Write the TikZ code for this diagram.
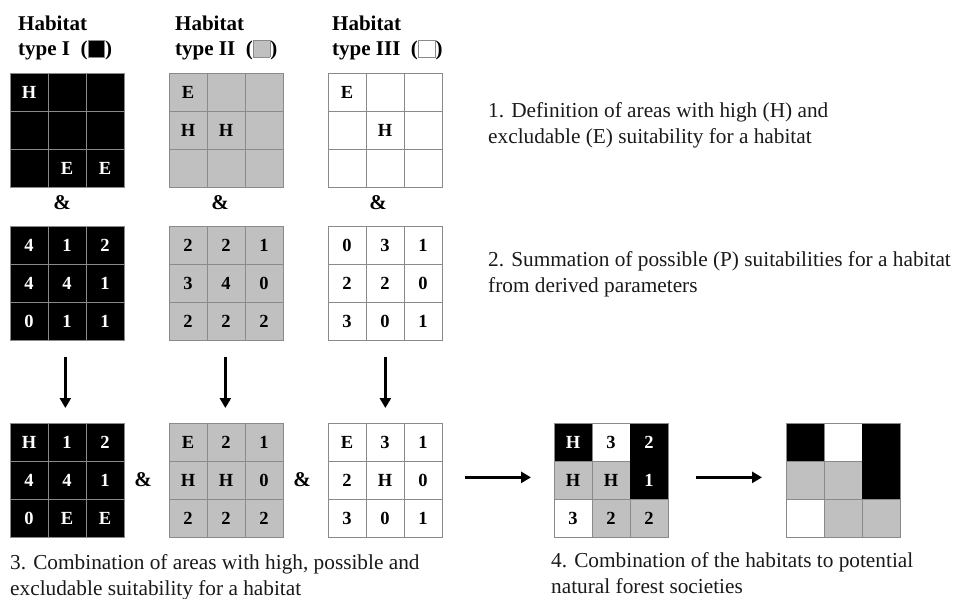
\documentclass[tikz,border=0pt]{standalone}
\usepackage{fontspec}
\setmainfont{Liberation Serif}
\usetikzlibrary{calc,arrows.meta}

\definecolor{hgray}{HTML}{C0C0C0}
\definecolor{gridline}{HTML}{8A8A8A}
\definecolor{ink}{HTML}{1A1A1A}

\tikzset{
  cell/.style={rectangle, minimum size=38pt, inner sep=0pt, draw=gridline,
    line width=0.7pt, font=\fontsize{18.5}{18.5}\selectfont\bfseries},
  blk/.style={fill=black, text=white},
  gry/.style={fill=hgray, text=black},
  wht/.style={fill=white, text=black},
  blkm/.style={fill=black, text=white, draw=black},
  gridframe/.style={rectangle, minimum size=114pt, inner sep=0pt, draw=gridline,
    line width=0.7pt, anchor=north west},
  header/.style={anchor=base west, align=left, inner sep=0pt,
    font=\fontsize{21}{25}\selectfont\bfseries},
  caption/.style={anchor=base west, align=left, inner sep=0pt,
    font=\fontsize{21.3}{26}\selectfont, text=ink},
  amp/.style={font=\fontsize{21}{21}\selectfont\bfseries, inner sep=0pt},
  flow/.style={-{Triangle[length=10pt,width=11pt]}, line width=3.4pt},
}

% 3x3 grid: name, top-left corner, nine entries style/label
\newcommand\habgrid[3]{%
  \coordinate (#1nw) at (#2);
  \foreach [count=\k from 0] \s/\t in {#3} {
    \pgfmathtruncatemacro\row{\k/3}
    \pgfmathtruncatemacro\col{\k-3*\row}
    \node[cell,\s] (#1-\k) at ($(#1nw)+(\col*38+19,\row*38+19)$) {\t};
  }
  \node[gridframe] (#1) at (#2) {};
}

% small legend square inside the headers
\newcommand\hsq[1]{{\setlength{\fboxsep}{0pt}\setlength{\fboxrule}{0.8pt}%
  \fcolorbox{gridline}{#1}{\rule[-1.5pt]{0pt}{16pt}\hspace{16pt}}}}

\begin{document}
\begin{tikzpicture}[x=1pt, y=-1pt]
  \useasboundingbox[fill=white] (0,0) rectangle (957,598);

  % headers (anchored at the baseline of their last line)
  \node[header] (h1) at (18,55) {Habitat\\type I \ (\hsq{black})};
  \node[header] (h2) at (175,55) {Habitat\\type II \ (\hsq{hgray})};
  \node[header] (h3) at (332,55) {Habitat\\type III \ (\hsq{white})};

  % step 1: high / excludable areas
  \habgrid{g1a}{10,73}{blk/H,blk/{},blk/{},blk/{},blk/{},blk/{},blk/{},blk/E,blk/E}
  \habgrid{g2a}{169,73}{gry/E,gry/{},gry/{},gry/H,gry/H,gry/{},gry/{},gry/{},gry/{}}
  \habgrid{g3a}{328,73}{wht/E,wht/{},wht/{},wht/{},wht/H,wht/{},wht/{},wht/{},wht/{}}

  \node[amp] (a1) at (62,203) {\&};
  \node[amp] (a2) at (220,203) {\&};
  \node[amp] (a3) at (378,203) {\&};

  % step 2: summed possible suitabilities
  \habgrid{g1b}{10,226}{blk/4,blk/1,blk/2,blk/4,blk/4,blk/1,blk/0,blk/1,blk/1}
  \habgrid{g2b}{169,226}{gry/2,gry/2,gry/1,gry/3,gry/4,gry/0,gry/2,gry/2,gry/2}
  \habgrid{g3b}{328,226}{wht/0,wht/3,wht/1,wht/2,wht/2,wht/0,wht/3,wht/0,wht/1}

  % step 3: combination per habitat
  \habgrid{g1c}{10,423}{blk/H,blk/1,blk/2,blk/4,blk/4,blk/1,blk/0,blk/E,blk/E}
  \habgrid{g2c}{169,423}{gry/E,gry/2,gry/1,gry/H,gry/H,gry/0,gry/2,gry/2,gry/2}
  \habgrid{g3c}{328,423}{wht/E,wht/3,wht/1,wht/2,wht/H,wht/0,wht/3,wht/0,wht/1}

  \node[amp] (a4) at (143,480) {\&};
  \node[amp] (a5) at (302,480) {\&};

  % step 4: combined habitats
  \habgrid{g4}{554,423}{blkm/H,wht/3,blkm/2,gry/H,gry/H,blkm/1,wht/3,gry/2,gry/2}
  \habgrid{g5}{786,423}{blkm/{},wht/{},blkm/{},gry/{},gry/{},blkm/{},wht/{},gry/{},gry/{}}

  % flow arrows
  \draw[flow, shorten <=16pt, shorten >=15pt] ([xshift=-2pt]g1b.south) -- ([xshift=-2pt]g1c.north);
  \draw[flow, shorten <=16pt, shorten >=15pt] ([xshift=-1pt]g2b.south) -- ([xshift=-1pt]g2c.north);
  \draw[flow, shorten <=16pt, shorten >=15pt] (g3b.south) -- (g3c.north);
  \draw[flow, shorten <=22pt, shorten >=23pt] ([yshift=3pt]g3c.east) -- ([yshift=3pt]g4.west);
  \draw[flow, shorten <=27pt, shorten >=24pt] ([yshift=3pt]g4.east) -- ([yshift=3pt]g5.west);

  % step captions (anchored at the baseline of their last line)
  \node[caption] (c1) at (488,143) {1. Definition of areas with high (H) and\\excludable (E) suitability for a habitat};
  \node[caption] (c2) at (488,292) {2. Summation of possible (P) suitabilities for a habitat\\from derived parameters};
  \node[caption] (c3) at (10,595) {3. Combination of areas with high, possible and\\excludable suitability for a habitat};
  \node[caption] (c4) at (551,593) {4. Combination of the habitats to potential\\natural forest societies};
\end{tikzpicture}
\end{document}
